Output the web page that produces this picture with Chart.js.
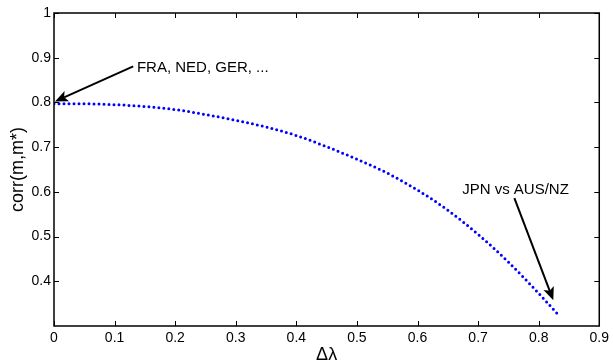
<!DOCTYPE html>
<html>
<head>
<meta charset="utf-8">
<script src="https://cdn.jsdelivr.net/npm/chart.js@4/dist/chart.umd.min.js"></script>
<style>
  html, body { margin: 0; padding: 0; background: #fff; }
  #wrap { width: 613px; height: 360px; }
</style>
</head>
<body>
<div id="wrap"><canvas id="c" width="613" height="360"></canvas></div>
<script>
// values
const deltaLambda = [0, 0.05, 0.10, 0.15, 0.20, 0.25, 0.30, 0.35, 0.40, 0.45, 0.50, 0.55, 0.60, 0.65, 0.70, 0.75, 0.80, 0.835];
const corrValues = [0.797, 0.797, 0.795, 0.791, 0.784, 0.773, 0.760, 0.745, 0.726, 0.701, 0.673, 0.642, 0.604, 0.559, 0.505, 0.443, 0.373, 0.321];
const xTicks = [0, 0.1, 0.2, 0.3, 0.4, 0.5, 0.6, 0.7, 0.8, 0.9];
const yTicks = [0.4, 0.5, 0.6, 0.7, 0.8, 0.9, 1];

// annotations in data units: text anchor, arrow tail, arrow tip
const noteTexts = ['FRA, NED, GER, ...', 'JPN vs AUS/NZ'];
const noteAnchors = [[0.1368, 0.878], [0.6737, 0.6045]];
const arrowTails = [[0.1307, 0.8805], [0.7599, 0.5859]];
const arrowTips = [[0.0016, 0.8022], [0.8241, 0.3577]];

const FONT = '"Liberation Sans", Arial, Helvetica, sans-serif';

const fmt = (v) => {
    const r = Math.round(v * 10) / 10;
    return yTicks.includes(r) || xTicks.includes(r) ? String(r) : '';
};

const matlabAxes = {
    id: 'matlabAxes',
    afterDraw(chart) {
        const { ctx, chartArea: a, scales: { x, y } } = chart;
        ctx.save();
        ctx.strokeStyle = '#000';
        ctx.lineWidth = 1.5;
        ctx.strokeRect(a.left, a.top, a.right - a.left, a.bottom - a.top);
        ctx.lineWidth = 1;
        ctx.beginPath();
        xTicks.forEach((v) => {
            const px = Math.round(x.getPixelForValue(v)) + 0.5;
            ctx.moveTo(px, a.bottom); ctx.lineTo(px, a.bottom - 5);
            ctx.moveTo(px, a.top); ctx.lineTo(px, a.top + 5);
        });
        yTicks.forEach((v) => {
            const py = Math.round(y.getPixelForValue(v)) + 0.5;
            ctx.moveTo(a.left, py); ctx.lineTo(a.left + 5, py);
            ctx.moveTo(a.right, py); ctx.lineTo(a.right - 5, py);
        });
        ctx.stroke();

        // arrows + labels
        ctx.fillStyle = '#000';
        ctx.font = '15px ' + FONT;
        ctx.textBaseline = 'middle';
        ctx.textAlign = 'left';
        noteTexts.forEach((t, i) => {
            ctx.fillText(t, x.getPixelForValue(noteAnchors[i][0]), y.getPixelForValue(noteAnchors[i][1]));
            const x0 = x.getPixelForValue(arrowTails[i][0]), y0 = y.getPixelForValue(arrowTails[i][1]);
            const x1 = x.getPixelForValue(arrowTips[i][0]), y1 = y.getPixelForValue(arrowTips[i][1]);
            const ang = Math.atan2(y1 - y0, x1 - x0);
            const len = 13, half = 5.5;
            const c = Math.cos(ang), s = Math.sin(ang);
            const bx = x1 - len * c, by = y1 - len * s;
            ctx.lineWidth = 2;
            ctx.beginPath();
            ctx.moveTo(x0, y0);
            ctx.lineTo(bx + 3 * c, by + 3 * s);
            ctx.stroke();
            ctx.beginPath();
            ctx.moveTo(x1, y1);
            ctx.lineTo(bx - half * s, by + half * c);
            ctx.lineTo(bx + 3 * c, by + 3 * s);
            ctx.lineTo(bx + half * s, by - half * c);
            ctx.closePath();
            ctx.fill();
        });
        ctx.restore();
    }
};

new Chart(document.getElementById('c'), {
    type: 'line',
    data: {
        datasets: [{
            data: deltaLambda.map((v, i) => ({ x: v, y: corrValues[i] })),
            borderColor: '#0000ff',
            borderWidth: 3,
            borderDash: [0, 5],
            borderCapStyle: 'round',
            pointRadius: 0,
            cubicInterpolationMode: 'monotone',
            fill: false
        }]
    },
    options: {
        responsive: false,
        animation: false,
        events: [],
        layout: { padding: { top: 13, right: 13, left: 0, bottom: 0 } },
        plugins: { legend: { display: false }, tooltip: { enabled: false } },
        scales: {
            x: {
                type: 'linear',
                min: 0,
                max: 0.9,
                afterFit: (s) => { s.height = 34; },
                afterBuildTicks: (s) => { s.ticks = xTicks.map((v) => ({ value: v })); },
                grid: { display: false, drawTicks: false },
                border: { display: false },
                ticks: { color: '#000', font: { family: FONT, size: 14 }, padding: 4, maxRotation: 0, callback: fmt },
                title: { display: true, text: 'Δλ', color: '#000', font: { family: FONT, size: 18 }, padding: { top: 0, bottom: -6 } }
            },
            y: {
                type: 'linear',
                min: 0.3,
                max: 1,
                afterFit: (s) => { s.width = 54; },
                afterBuildTicks: (s) => { s.ticks = yTicks.map((v) => ({ value: v })); },
                grid: { display: false, drawTicks: false },
                border: { display: false },
                ticks: { color: '#000', font: { family: FONT, size: 14 }, padding: 3, callback: fmt },
                title: { display: true, text: 'corr(m,m*)', color: '#000', font: { family: FONT, size: 18 }, padding: { top: 7, bottom: 0 } }
            }
        }
    },
    plugins: [matlabAxes]
});
</script>
</body>
</html>
